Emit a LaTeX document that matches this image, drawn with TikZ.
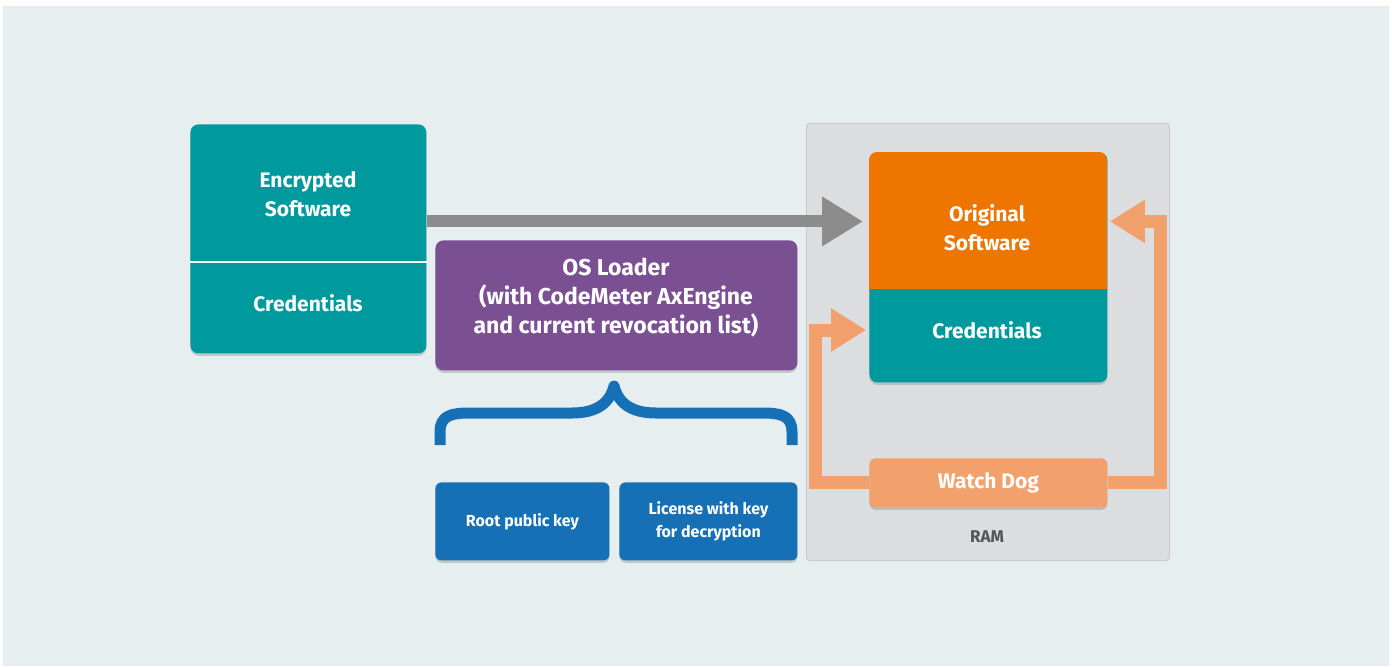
\documentclass[tikz,border=0pt]{standalone}
\usepackage{fontspec}
\setmainfont{Fira Sans}
\usetikzlibrary{positioning,arrows.meta,shadows}

\definecolor{pagebg}{HTML}{E6EEF0}
\definecolor{cmteal}{HTML}{00999E}
\definecolor{cmpurple}{HTML}{7B5093}
\definecolor{cmblue}{HTML}{1570B6}
\definecolor{cmorange}{HTML}{EE7500}
\definecolor{dogorange}{HTML}{F2A06C}
\definecolor{arrowgray}{HTML}{8C8C8C}
\definecolor{ramfill}{HTML}{DCDDDF}
\definecolor{ramline}{HTML}{C6C8CA}
\definecolor{ramtext}{HTML}{555555}

\begin{document}
\begin{tikzpicture}[x=0.5pt,y=-0.5pt,
	box/.style={rounded corners=4pt, anchor=north west, inner sep=0pt, text=white, align=center,
		drop shadow={shadow xshift=0pt, shadow yshift=-1.2pt, opacity=.35}},
	lbl/.style={text=white, align=center, font=\bfseries\fontsize{10.5}{14.5}\selectfont},
	keylbl/.style={font=\bfseries\fontsize{8}{11.5}\selectfont},
	grayarrow/.style={draw=arrowgray, line width=6pt, -{Triangle[length=20.5pt,width=23.5pt]}},
	dogarrow/.style={draw=dogorange, line width=6.5pt, -{Triangle[length=17.5pt,width=20.5pt]}}]

	\useasboundingbox (0,0) rectangle (1392,666);
	\fill[pagebg] (3,6) rectangle (1389,666);

	\node[anchor=north west, fill=ramfill, draw=ramline, rounded corners=1.5pt,
		minimum width=181.5pt, minimum height=218.5pt] (ram) at (806,123) {};
	\node[text=ramtext, font=\bfseries\fontsize{8.5}{10}\selectfont] (ramlbl) at (987,537) {RAM};

	\node[box, fill=cmteal, minimum width=118pt, minimum height=114.5pt] (enc) at (190,124) {};
	\draw[white, line width=1pt] (enc.west |- 0,262) -- (enc.east |- 0,262);
	\node[lbl] (encsw) at (308,194) {Encrypted\\Software};
	\node[lbl] (enccred) at (308,303) {Credentials};

	\node[box, fill=cmpurple, minimum width=181pt, minimum height=65pt] (loader) at (435,240) {};
	\node[lbl, font=\bfseries\fontsize{11.5}{14.5}\selectfont] (loadertxt) at (616,298)
		{OS Loader\\(with CodeMeter AxEngine\\and current revocation list)};

	\draw[cmblue, line width=5.5pt, line join=round]
		(440,445) -- (440,432) .. controls (440,415) and (452,413) .. (470,413)
		-- (572,413) .. controls (598,413) and (610,402) .. (614,386)
		.. controls (618,402) and (630,413) .. (656,413)
		-- (762,413) .. controls (780,413) and (792,415) .. (792,432) -- (792,445);

	\node[box, fill=cmblue, rounded corners=3pt, keylbl, minimum width=87pt, minimum height=39pt]
		(rootkey) at (435,482) {Root public key};
	\node[box, fill=cmblue, rounded corners=3pt, keylbl, minimum width=89pt, minimum height=39pt]
		(license) at (619,482) {License with key\\for decryption};

	\node[box, fill=cmteal, minimum width=119pt, minimum height=115pt] (orig) at (869,152) {};
	\begin{scope}
		\clip[rounded corners=4pt] (869,152) rectangle (1107,382);
		\fill[cmorange] (869,152) rectangle (1107,289);
	\end{scope}
	\node[lbl] (origtxt) at (987,228) {Original\\Software};
	\node[lbl] (origcred) at (987,330) {Credentials};

	\node[box, fill=dogorange, rounded corners=3pt, lbl, minimum width=119pt, minimum height=24.5pt]
		(dog) at (869,458) {Watch Dog};

	\coordinate (grayin) at ([yshift=8.75pt]enc.east);
	\draw[grayarrow, shorten >=3pt] (grayin) -- (grayin -| orig.west);
	\draw[dogarrow, shorten >=1.5pt] (dog.west) -- ++(-27pt,0) |- (orig.west |- origcred);
	\draw[dogarrow, shorten >=1pt] (dog.east) -- ++(26.5pt,0) |- (orig.east |- grayin);
\end{tikzpicture}
\end{document}
